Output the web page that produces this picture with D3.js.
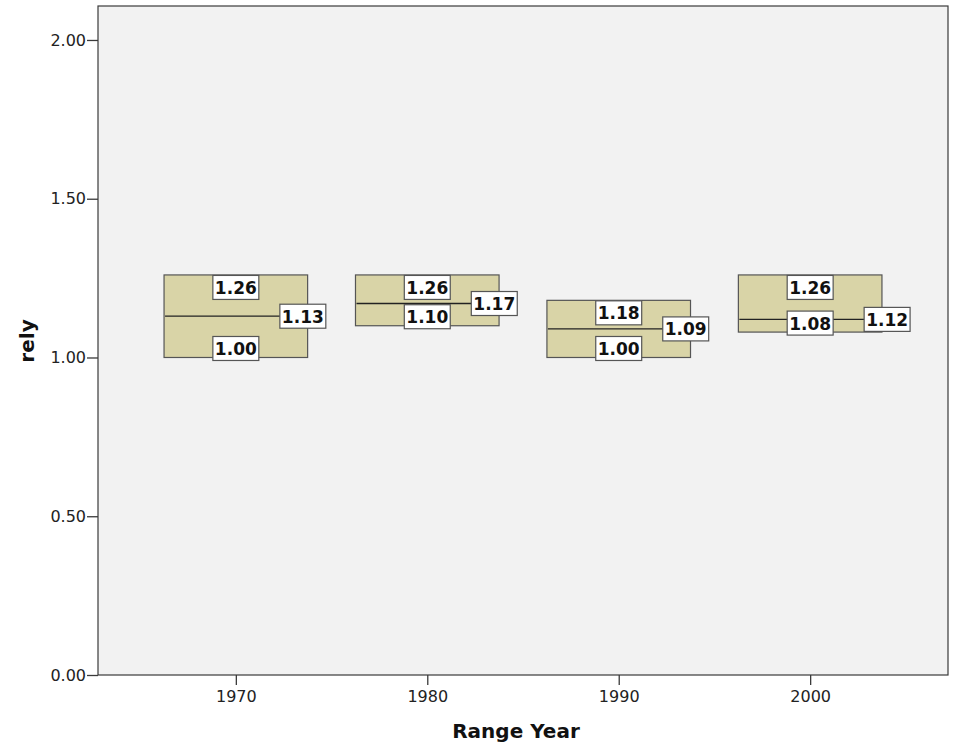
<!DOCTYPE html>
<html><head><meta charset="utf-8">
<script src="https://cdn.jsdelivr.net/npm/d3@7"></script>
<style>body{margin:0;background:#fff;}svg{display:block;font-family:"DejaVu Sans",sans-serif;}</style>
</head><body>
<svg id="c" width="954" height="746"></svg>
<script>
const years = [1970, 1980, 1990, 2000];
const lowValues = [1.00, 1.10, 1.00, 1.08];
const highValues = [1.26, 1.26, 1.18, 1.26];
const midValues = [1.13, 1.17, 1.09, 1.12];
const yTicks = [0, 0.5, 1.0, 1.5, 2.0];
const xTicks = [1970, 1980, 1990, 2000];

const svg = d3.select("#c");
const m = {l: 98, r: 948, t: 6, b: 675};
const x = d3.scaleLinear().domain([1962.8, 2007.2]).range([m.l, m.r]);
const y = d3.scaleLinear().domain([0, 2.107]).range([m.b, m.t]);
const halfW = 3.75;

svg.append("rect").attr("x", m.l).attr("y", m.t).attr("width", m.r - m.l).attr("height", m.b - m.t)
  .attr("fill", "#f2f2f2").attr("stroke", "#3a3a3a").attr("stroke-width", 1.2);

const ya = svg.append("g").attr("transform", `translate(${m.l},0)`)
  .call(d3.axisLeft(y).tickValues(yTicks).tickFormat(d3.format(".2f")).tickSize(11).tickPadding(1));
const xa = svg.append("g").attr("transform", `translate(0,${m.b})`)
  .call(d3.axisBottom(x).tickValues(xTicks).tickFormat(d3.format("d")).tickSize(10).tickPadding(6));
[ya, xa].forEach(a => {
  a.attr("font-size", null).attr("font-family", null);
  a.select(".domain").remove();
  a.selectAll("line").attr("stroke", "#3a3a3a").attr("stroke-width", 1.3);
  a.selectAll("text").attr("fill", "#222").style("font-size", "16px").style("font-family", "DejaVu Sans");
});

const data = years.map((yr, i) => ({yr, lo: lowValues[i], hi: highValues[i], mid: midValues[i]}));
const g = svg.append("g");
g.selectAll("rect.box").data(data).join("rect").attr("class", "box")
  .attr("x", d => x(d.yr - halfW)).attr("width", d => x(d.yr + halfW) - x(d.yr - halfW))
  .attr("y", d => y(d.hi)).attr("height", d => y(d.lo) - y(d.hi))
  .attr("fill", "#d9d4a7").attr("stroke", "#555").attr("stroke-width", 1.2);
g.selectAll("line.mid").data(data).join("line").attr("class", "mid")
  .attr("x1", d => x(d.yr - halfW) + 1).attr("x2", d => x(d.yr + halfW))
  .attr("y1", d => y(d.mid)).attr("y2", d => y(d.mid))
  .attr("stroke", "#222").attr("stroke-width", 1.3);

function label(cx, cy, txt, anchorLeft) {
  const lg = g.append("g");
  const t = lg.append("text").attr("y", cy + 6.5).attr("text-anchor", "middle")
    .style("font-size", "17px").style("font-weight", "bold").attr("fill", "#111").text(txt);
  const w = t.node().getComputedTextLength() + 4;
  if (anchorLeft != null) cx = Math.max(cx, anchorLeft + w / 2);
  t.attr("x", cx);
  lg.insert("rect", "text").attr("x", cx - w / 2).attr("y", cy - 12)
    .attr("width", w).attr("height", 24)
    .attr("fill", "#fff").attr("stroke", "#555").attr("stroke-width", 1.2);
  return {l: cx - w / 2, r: cx + w / 2, cy};
}
data.forEach(d => {
  label(x(d.yr), y(d.hi) + 12.5, d3.format(".2f")(d.hi));
  const lo = label(x(d.yr), y(d.lo) - 9, d3.format(".2f")(d.lo));
  const my = y(d.mid);
  const sameRow = Math.abs(my - lo.cy) < 12;
  label(x(d.yr) + 67, my, d3.format(".2f")(d.mid), sameRow ? lo.r + 31 : null);
});

svg.append("text").attr("x", 516).attr("y", 738).attr("text-anchor", "middle")
  .style("font-size", "20px").style("font-weight", "bold").attr("fill", "#111").text("Range Year");
svg.append("text").attr("transform", "translate(34,341) rotate(-90)").attr("text-anchor", "middle")
  .style("font-size", "20px").style("font-weight", "bold").attr("fill", "#111").text("rely");
</script>
</body></html>
